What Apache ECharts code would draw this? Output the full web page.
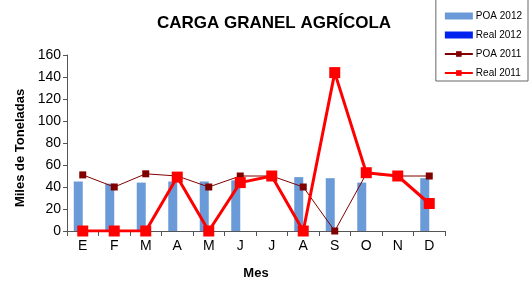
<!DOCTYPE html>
<html>
<head>
<meta charset="utf-8">
<script src="https://cdn.jsdelivr.net/npm/echarts@6/dist/echarts.min.js"></script>
<style>
  html, body { margin: 0; padding: 0; background: #fff; }
  #chart { width: 529px; height: 281px; }
</style>
</head>
<body>
<div id="chart"></div>
<script>
var months = ["E", "F", "M", "A", "M", "J", "J", "A", "S", "O", "N", "D"];
var poa2012 = [45, 43, 44, 45, 45, 46, null, 49, 48, 44, null, 48];
var real2012 = [null, null, null, null, null, null, null, null, null, null, null, null];
var poa2011 = [51, 40, 52, 50, 40, 50, 50, 40, 0, 52, 50, 50];
var real2011 = [0, 0, 0, 49, 0, 44, 50, 0, 144, 53, 50, 25];

var chart = echarts.init(document.getElementById("chart"));
var font = "Liberation Sans, Arial, sans-serif";

var option = {
  backgroundColor: "#fff",
  animation: false,
  textStyle: { fontFamily: font },
  title: {
    text: "CARGA GRANEL AGRÍCOLA",
    left: 269,
    top: 10,
    textAlign: "center",
    textStyle: { fontSize: 17, fontWeight: "bold", color: "#000", fontFamily: font }
  },
  legend: {
    orient: "vertical",
    right: 1,
    top: -1,
    padding: [12, 6, 3, 8],
    itemGap: 9,
    itemWidth: 28,
    itemHeight: 7,
    borderColor: "#666",
    borderWidth: 1,
    textStyle: { fontSize: 10, color: "#000", fontFamily: font, padding: [0, 0, 0, -2] },
    data: [
      { name: "POA 2012", icon: "rect" },
      { name: "Real 2012", icon: "rect" },
      { name: "POA 2011" },
      { name: "Real 2011" }
    ]
  },
  grid: { left: 67, right: 84, top: 55, bottom: 50, outerBoundsMode: "none" },
  xAxis: {
    type: "category",
    data: months,
    name: "Mes",
    nameLocation: "middle",
    nameGap: 36,
    nameTextStyle: { fontSize: 13, fontWeight: "bold", color: "#000" },
    axisLine: { lineStyle: { color: "#555" } },
    axisTick: { show: true, alignWithLabel: false, length: 5, lineStyle: { color: "#555" } },
    axisLabel: { fontSize: 14, color: "#000", margin: 8 }
  },
  yAxis: {
    type: "value",
    min: 0,
    max: 160,
    interval: 20,
    name: "Miles de Toneladas",
    nameLocation: "middle",
    nameGap: 40,
    nameTextStyle: { fontSize: 13, fontWeight: "bold", color: "#000", padding: [0, 0, 0, -10] },
    axisLine: { show: true, lineStyle: { color: "#555" } },
    axisTick: { show: true, length: 4, lineStyle: { color: "#555" } },
    splitLine: { show: false },
    axisLabel: { fontSize: 14, color: "#000", margin: 6 }
  },
  series: [
    {
      name: "POA 2012",
      type: "bar",
      data: poa2012,
      barWidth: 9,
      barGap: "0%",
      itemStyle: { color: "#6a9bd8" }
    },
    {
      name: "Real 2012",
      type: "bar",
      data: real2012,
      barWidth: 9,
      itemStyle: { color: "#0022ee" }
    },
    {
      name: "POA 2011",
      type: "line",
      data: poa2011,
      symbol: "rect",
      symbolSize: 7,
      lineStyle: { color: "#800000", width: 1 },
      itemStyle: { color: "#800000" },
      z: 3
    },
    {
      name: "Real 2011",
      type: "line",
      data: real2011,
      symbol: "rect",
      symbolSize: 11,
      lineStyle: { color: "#ff0000", width: 3 },
      itemStyle: { color: "#ff0000" },
      z: 4
    }
  ]
};

option && chart.setOption(option);
</script>
</body>
</html>
